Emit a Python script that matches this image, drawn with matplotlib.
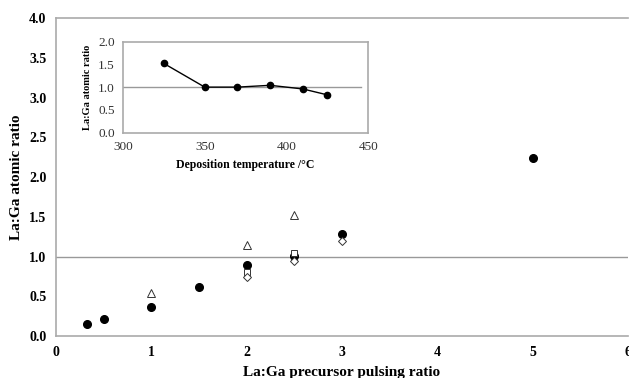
import matplotlib
matplotlib.use("Agg")
import matplotlib.pyplot as plt

plt.rcParams['font.family'] = ['Liberation Serif', 'DejaVu Serif']

# Main chart data
circle_x = [0.33, 0.5, 1.0, 1.5, 2.0, 2.5, 3.0, 5.0]
circle_y = [0.15, 0.21, 0.37, 0.62, 0.90, 1.01, 1.28, 2.24]
triangle_x = [1.0, 2.0, 2.5]
triangle_y = [0.54, 1.15, 1.52]
square_x = [2.0, 2.5]
square_y = [0.80, 1.05]
diamond_x = [2.0, 2.5, 3.0]
diamond_y = [0.74, 0.95, 1.19]

# Inset data
temp_x = [325, 350, 370, 390, 410, 425]
temp_y = [1.52, 1.00, 1.00, 1.04, 0.96, 0.83]

main_xticks = [0, 1, 2, 3, 4, 5, 6]
main_yticks = [0.0, 0.5, 1.0, 1.5, 2.0, 2.5, 3.0, 3.5, 4.0]
inset_xticks = [300, 350, 400, 450]
inset_yticks = [0.0, 0.5, 1.0, 1.5, 2.0]

fig = plt.figure(figsize=(6.29, 3.78), dpi=100)
ax = fig.add_axes([0.089, 0.111, 0.9095, 0.841])
ax.set_xlim(0, 6)
ax.set_ylim(0, 4)
ax.axhline(1.0, color='#999999', lw=1.0, zorder=1)
ax.plot(circle_x, circle_y, 'o', color='black', ms=5.5, zorder=3, clip_on=False)
ax.plot(square_x, square_y, 's', mfc='white', mec='#333333', mew=0.7, ms=5, zorder=4)
ax.plot(diamond_x, diamond_y, 'D', mfc='white', mec='#333333', mew=0.7, ms=4, zorder=4)
ax.plot(triangle_x, triangle_y, '^', mfc='white', mec='#333333', mew=0.7, ms=5.5, zorder=4)
ax.set_xticks(main_xticks)
ax.set_yticks(main_yticks)
ax.set_xticklabels([str(v) for v in main_xticks], fontweight='bold', fontsize=10)
ax.set_yticklabels([f"{v:.1f}" for v in main_yticks], fontweight='bold', fontsize=10)
ax.tick_params(length=0, pad=7)
for s in ['left', 'bottom', 'top']:
    ax.spines[s].set_color('#aaaaaa')
    ax.spines[s].set_linewidth(1.2)
ax.spines['right'].set_visible(False)
ax.set_xlabel('La:Ga precursor pulsing ratio', fontweight='bold', fontsize=11, labelpad=5)
ax.set_ylabel('La:Ga atomic ratio', fontweight='bold', fontsize=11, labelpad=4)

ins = fig.add_axes([0.1955, 0.649, 0.39, 0.241])
ins.set_xlim(300, 450)
ins.set_ylim(0, 2)
ins.axhline(1.0, xmin=0, xmax=0.97, color='#999999', lw=1.0, zorder=1)
ins.plot(temp_x, temp_y, '-o', color='black', ms=4.5, lw=1.0, zorder=3)
ins.set_xticks(inset_xticks)
ins.set_yticks(inset_yticks)
ins.set_xticklabels([str(v) for v in inset_xticks], fontsize=9.5, color='#333333')
ins.set_yticklabels([f"{v:.1f}" for v in inset_yticks], fontsize=9.5, color='#333333')
ins.tick_params(length=0, pad=6)
for s in ins.spines.values():
    s.set_color('#aaaaaa')
    s.set_linewidth(1.2)
ins.set_xlabel('Deposition temperature /°C', fontweight='bold', fontsize=8.5, labelpad=4)
ins.set_ylabel('La:Ga atomic ratio', fontweight='bold', fontsize=7.5, labelpad=4)

fig.savefig('out.png', dpi=100)
